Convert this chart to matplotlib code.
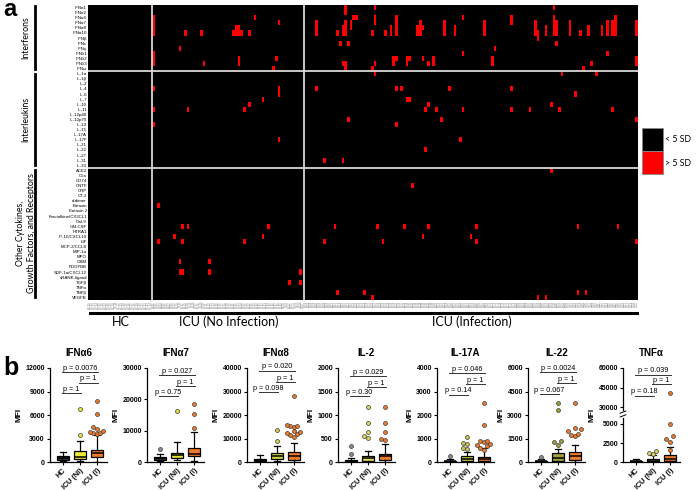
import numpy as np
import matplotlib
matplotlib.use("Agg")
import matplotlib.pyplot as plt
from matplotlib.colors import ListedColormap
from matplotlib.patches import Rectangle
from matplotlib.lines import Line2D

# ================= panel a data =================
interferons = ["IFNα1", "IFNα2", "IFNα6", "IFNα7", "IFNα8", "IFNα10", "IFNβ", "IFNε",
               "IFNγ", "IFNλ1", "IFNλ2", "IFNλ3", "IFNω"]
interleukins = ["IL-1α", "IL-1β", "IL-2", "IL-4", "IL-6", "IL-7", "IL-10", "IL-11",
                "IL-12p40", "IL-12p70", "IL-13", "IL-15", "IL-17A", "IL-17F", "IL-21",
                "IL-22", "IL-27", "IL-31", "IL-33"]
others = ["ACE2", "C5a", "CD74", "CNTF", "CRP", "CT-2", "d-dimer", "Eotaxin", "Eotaxin 2",
          "Fractalkine/CX3CL1", "Gal-9", "GM-CSF", "HTRA1", "IP-10/CXCL10", "LIF",
          "MCP-2/CCL8", "MIP-1α", "MPO", "OSM", "PDGFBB", "SDF-1a/CXCL12", "sRANK-ligand",
          "TGFβ", "TNFα", "TNFβ", "VEGFB"]
group_sizes = [24, 57, 125]          # HC, ICU (No Infection), ICU (Infection)
group_names = ["HC", "ICU (No Infection)", "ICU (Infection)"]
legend_labels = ["< 5 SD", "> 5 SD"]

# red cells (> 5 SD): (sample column, first row, last row)
red_runs = [
    # ICU (No Infection)
    (24, 2, 5), (24, 9, 11), (36, 5, 5), (42, 5, 5), (55, 4, 4), (56, 4, 4),
    (54, 5, 5), (55, 5, 5), (56, 5, 5), (57, 5, 5), (60, 5, 5), (62, 2, 2),
    (71, 3, 3), (34, 8, 8), (43, 11, 11), (56, 10, 11), (70, 10, 10), (69, 12, 12),
    (24, 16, 16), (24, 20, 20), (24, 23, 23), (37, 20, 20), (58, 20, 20),
    (60, 19, 19), (65, 18, 18), (71, 16, 17), (71, 26, 26),
    (26, 39, 39), (35, 43, 43), (37, 43, 43), (67, 43, 43), (32, 45, 45),
    (65, 45, 45), (26, 46, 46), (35, 46, 46), (58, 46, 46), (34, 50, 50),
    (45, 50, 50), (34, 52, 52), (35, 52, 52), (45, 52, 52), (79, 52, 52),
    (75, 54, 54), (79, 54, 54),
    # ICU (Infection)
    (85, 3, 5), (96, 0, 1), (99, 2, 2), (100, 2, 2), (96, 3, 5), (95, 4, 5),
    (93, 5, 5), (98, 3, 4), (94, 7, 7), (97, 7, 7), (95, 11, 11), (96, 11, 12),
    (107, 0, 0), (107, 2, 3), (106, 5, 5), (111, 5, 5), (115, 2, 5), (113, 4, 5),
    (107, 11, 11), (106, 12, 12), (107, 13, 13), (114, 10, 11), (115, 10, 10),
    (119, 10, 11), (120, 10, 10), (123, 4, 5), (124, 3, 5), (125, 4, 4),
    (125, 10, 10), (127, 11, 11), (129, 10, 11), (133, 3, 5), (137, 4, 5),
    (140, 2, 2), (140, 9, 9), (148, 3, 5), (152, 8, 8), (151, 10, 11),
    (158, 2, 3), (167, 3, 5), (168, 5, 6), (171, 4, 5), (174, 0, 0), (174, 2, 5),
    (175, 3, 5), (175, 7, 7), (180, 3, 5), (184, 5, 5), (187, 4, 5), (192, 4, 5),
    (194, 3, 5), (196, 3, 5), (197, 2, 5), (205, 3, 5), (194, 9, 9), (188, 11, 11),
    (185, 12, 12), (205, 10, 11), (177, 13, 13), (190, 13, 13),
    (85, 16, 16), (115, 16, 16), (117, 16, 16), (119, 18, 18), (120, 18, 18),
    (135, 16, 16), (158, 16, 16), (182, 17, 17), (127, 19, 19), (126, 20, 20),
    (130, 20, 20), (140, 20, 20), (158, 20, 20), (165, 20, 20), (173, 19, 19),
    (176, 20, 20), (196, 20, 20), (97, 22, 22), (115, 23, 23), (132, 22, 22),
    (205, 22, 22), (139, 26, 26), (126, 28, 28), (88, 30, 30), (95, 30, 30),
    (173, 32, 32), (121, 35, 35),
    (92, 43, 43), (108, 43, 43), (118, 43, 43), (127, 43, 43), (145, 43, 43),
    (183, 43, 43), (198, 43, 43), (125, 45, 45), (143, 45, 45), (88, 46, 46),
    (110, 46, 46), (145, 46, 46), (205, 46, 46),
    (93, 56, 56), (103, 56, 56), (183, 56, 56), (186, 56, 56),
    (106, 57, 57), (168, 57, 57), (171, 57, 57),
]

# ================= panel b data =================
titles = ["IFNα6", "IFNα7", "IFNα8", "IL-2", "IL-17A", "IL-22", "TNFα"]
box_groups = ["HC", "ICU (NI)", "ICU (I)"]
ymax = [12000, 30000, 40000, 2000, 4000, 6000, 60000]
yticks = [[0, 3000, 6000, 9000, 12000], [0, 10000, 20000, 30000],
          [0, 10000, 20000, 30000, 40000], [0, 500, 1000, 1500, 2000],
          [0, 1000, 2000, 3000, 4000], [0, 1500, 3000, 4500, 6000],
          [0, 2500, 5000, 30000, 45000, 60000]]
# whisker low, Q1, median, Q3, whisker high
hc_box = [[100, 300, 500, 720, 1280], [400, 700, 1200, 1500, 2700],
          [200, 500, 1000, 1300, 3100], [0, 7, 20, 50, 85],
          [0, 14, 30, 57, 130], [0, 20, 50, 85, 190], [0, 45, 100, 175, 400]]
ni_box = [[100, 430, 700, 1360, 2720], [500, 1300, 2300, 2900, 6300],
          [300, 1300, 2600, 3800, 6700], [0, 28, 85, 135, 240],
          [10, 57, 140, 240, 425], [10, 85, 255, 575, 830], [0, 90, 250, 440, 880]]
icu_box = [[50, 600, 1100, 1570, 3500], [200, 1800, 2550, 4500, 9500],
           [100, 1000, 2700, 4250, 7900], [0, 50, 120, 170, 380],
           [0, 57, 130, 200, 600], [0, 150, 360, 640, 1100], [0, 175, 440, 880, 1930]]
hc_fliers = [[], [4150], [], [180, 350], [270], [300], []]
ni_fliers = [[3400, 6800], [16400], [9100, 13800], [510, 560, 640, 830, 1160],
             [550, 600, 770, 800, 1050], [1100, 1280, 1360, 3340, 3770],
             [1050, 1180, 1400]]
icu_fliers = [[3600, 3650, 3700, 3800, 3950, 4250, 4500, 6150, 7750],
              [10850, 15400, 18500],
              [10500, 11600, 11900, 12300, 12900, 13300, 15000, 15200, 15500, 15600, 28200],
              [475, 490, 640, 830, 1180],
              [525, 600, 700, 740, 770, 840, 880, 910, 1590, 2510],
              [1640, 1750, 1790, 1960, 2130, 2170, 3770],
              [1620, 2590, 3070, 3380, 5000, 40900]]
p_texts = [["p = 1", "p = 1", "p = 0.0076"], ["p = 0.75", "p = 1", "p = 0.027"],
           ["p = 0.098", "p = 1", "p = 0.020"], ["p = 0.30", "p = 1", "p = 0.029"],
           ["p = 0.14", "p = 1", "p = 0.046"], ["p = 0.067", "p = 1", "p = 0.0024"],
           ["p = 0.18", "p = 1", "p = 0.039"]]
bracket_y = [[8800, 10100, 11500], [20960, 24150, 27660], [29800, 34040, 38860],
             [1397, 1596, 1823], [2865, 3320, 3787], [4340, 5040, 5745],
             [38900, 47800, 54900]]

# ================= styling =================
W, H = 700, 490
ni_colors = ["#ecec30", "#e2e03a", "#d4d245", "#dada60", "#c8c64e", "#a09f44", "#d8d75c"]
icu_color = "#f07a28"
hc_color = "#2e2e2e"
hc_flier_color = "#8c8c8c"
ARIAL = ["Liberation Sans", "DejaVu Sans"]
CAL = ["Lato", "DejaVu Sans"]
plt.rcParams["font.family"] = ARIAL


def fx(x):
    return x / W


def fy(y):
    return 1 - y / H


fig = plt.figure(figsize=(7, 4.9), dpi=100)

# ---------------- panel a: heatmap ----------------
row_labels = interferons + interleukins + others
nrows = len(row_labels)
ncols = sum(group_sizes)
mat = np.zeros((nrows, ncols))
for c, r0, r1 in red_runs:
    mat[r0:r1 + 1, c] = 1

hx0, hx1, hy0, hy1 = 88, 638, 5, 300
axh = fig.add_axes([fx(hx0), fy(hy1), (hx1 - hx0) / W, (hy1 - hy0) / H])
axh.imshow(mat, cmap=ListedColormap(["black", "#ff0000"]), vmin=0, vmax=1,
           aspect="auto", interpolation="nearest", extent=(0, ncols, nrows, 0))
axh.set_yticks(np.arange(nrows) + 0.5)
axh.set_yticklabels(row_labels, fontsize=3.2)
sample_ids = ([f"HC-{i + 1:02d}" for i in range(group_sizes[0])] +
              [f"NI-{i + 1:02d}" for i in range(group_sizes[1])] +
              [f"I-{i + 1:03d}" for i in range(group_sizes[2])])
axh.set_xticks(np.arange(ncols) + 0.5)
axh.set_xticklabels(sample_ids, fontsize=1.9, rotation=90, color="#777777")
axh.tick_params(length=0, pad=0.8)
for s in axh.spines.values():
    s.set_visible(False)
bounds = np.cumsum(group_sizes)[:-1]
for b in bounds:
    axh.axvline(b, color="#d8d8d8", lw=1.3)
for b in np.cumsum([len(interferons), len(interleukins)]):
    axh.axhline(b, color="#d8d8d8", lw=1.3)

# group bars and names below
edges = np.concatenate([[0], np.cumsum(group_sizes)])
x_of = lambda c: hx0 + (hx1 - hx0) * c / ncols
for i, name in enumerate(group_names):
    xa, xb = x_of(edges[i]) + 2, x_of(edges[i + 1]) - 1
    fig.add_artist(Line2D([fx(xa), fx(xb)], [fy(313), fy(313)], color="black", lw=2.2))
    fig.text(fx((xa + xb) / 2), fy(322), name, ha="center", va="center",
             fontsize=9, family=CAL)

# side group labels
sec = [(hy0 + 1, 69, ["Interferons"]), (74, 165, ["Interleukins"]),
       (170, 297, ["Other Cytokines,", "Growth Factors, and Receptors"])]
for ya, yb, lines in sec:
    fig.add_artist(Line2D([fx(35), fx(35)], [fy(ya), fy(yb)], color="black", lw=2))
    fig.text(fx(26), fy((ya + yb) / 2), "\n".join(lines), rotation=90, ha="center",
             va="center", fontsize=6.3, family=CAL, linespacing=1.15)

# legend
for k, (col, lab) in enumerate(zip(["black", "#ff0000"], legend_labels)):
    y_top = 128 + 23 * k
    fig.add_artist(Rectangle((fx(642), fy(y_top + 23)), 21 / W, 23 / H, facecolor=col,
                             edgecolor="#888888", lw=0.6, transform=fig.transFigure))
    fig.text(fx(665), fy(y_top + 12), lab, ha="left", va="center", fontsize=6.3,
             family=CAL)

fig.text(fx(3), fy(10), "a", fontsize=17, fontweight="bold", ha="left", va="center")
fig.text(fx(3), fy(368), "b", fontsize=18, fontweight="bold", ha="left", va="center")

# ---------------- panel b: box plots ----------------
lefts = [50, 147, 247, 338, 437, 528, 623]
Yb = [0, 6000, 27000, 60000]
Ub = [0, 136.8, 152.2, 282]


def tnf_fwd(y):
    return np.interp(y, Yb, Ub)


def tnf_inv(u):
    return np.interp(u, Ub, Yb)


def swarm(vals, pos, tf, span):
    xs, ys = [], []
    vals = sorted(vals)
    offs = [0, -0.2, 0.2, -0.38, 0.38]
    k = 0
    prev = None
    for v in vals:
        if prev is not None and abs(tf(v) - tf(prev)) < 0.04 * span:
            k += 1
        else:
            k = 0
        xs.append(pos + offs[k % len(offs)])
        ys.append(v)
        prev = v
    return xs, ys


for i in range(7):
    ax = fig.add_axes([fx(lefts[i]), fy(462), 57 / W, 94 / H])
    if titles[i] == "TNFα":
        ax.set_yscale("function", functions=(tnf_fwd, tnf_inv))
        tf = tnf_fwd
        span = 282
    else:
        tf = lambda v: v
        span = ymax[i]
    stats = []
    for grp, b in zip(box_groups, [hc_box[i], ni_box[i], icu_box[i]]):
        stats.append(dict(whislo=b[0], q1=b[1], med=b[2], q3=b[3], whishi=b[4],
                          fliers=[], label=grp))
    res = ax.bxp(stats, positions=[1, 2, 3], widths=0.7, patch_artist=True,
                 showfliers=False, capwidths=0.35,
                 boxprops=dict(edgecolor="black", linewidth=0.9),
                 whiskerprops=dict(color="black", linewidth=0.9),
                 capprops=dict(color="black", linewidth=0.9),
                 medianprops=dict(color="black", linewidth=1.1))
    for patch, c in zip(res["boxes"], [hc_color, ni_colors[i], icu_color]):
        patch.set_facecolor(c)
    for pos, fl, c in zip([1, 2, 3], [hc_fliers[i], ni_fliers[i], icu_fliers[i]],
                          [hc_flier_color, ni_colors[i], icu_color]):
        if fl:
            xs, ys = swarm(fl, pos, tf, span)
            ax.scatter(xs, ys, s=8, color=c, edgecolor="#3a3a3a", linewidth=0.5,
                       zorder=5, clip_on=False)
    ax.set_xlim(0.25, 3.6)
    ax.set_ylim(0, ymax[i])
    ax.set_yticks(yticks[i])
    ax.set_yticklabels([str(t) for t in yticks[i]], fontsize=5, fontweight="bold")
    ax.set_xticks([1, 2, 3])
    ax.set_xticklabels(box_groups, rotation=45, ha="right", rotation_mode="anchor",
                       fontsize=5.2, fontweight="bold")
    ax.tick_params(axis="both", length=2.5, width=0.8, pad=1.2)
    ax.set_ylabel("MFI", fontsize=6, fontweight="bold", labelpad=2)
    ax.set_title(titles[i], fontsize=7, fontweight="bold", pad=9)
    for s in ["top", "right"]:
        ax.spines[s].set_visible(False)
    for s in ["left", "bottom"]:
        ax.spines[s].set_linewidth(0.9)
    # significance brackets
    for (xa, xb), yv, txt in zip([(0.95, 2.05), (1.95, 3.05), (0.95, 3.05)],
                                 bracket_y[i], p_texts[i]):
        ax.plot([xa, xb], [yv, yv], color="#333333", lw=0.7, clip_on=False)
        ax.annotate(txt, ((xa + xb) / 2, yv), xytext=(0, 0.3), textcoords="offset points",
                    ha="center", va="bottom", fontsize=5.2, annotation_clip=False)
    if titles[i] == "TNFα":
        ub = 144 / 282
        ax.plot([0, 0], [ub - 0.02, ub + 0.02], transform=ax.transAxes, color="white",
                lw=2, clip_on=False, zorder=6)
        for d in (-0.02, 0.02):
            ax.plot([-0.05, 0.05], [ub + d - 0.012, ub + d + 0.012],
                    transform=ax.transAxes, color="black", lw=0.7, clip_on=False,
                    zorder=7)

fig.savefig("out.png", dpi=100)
